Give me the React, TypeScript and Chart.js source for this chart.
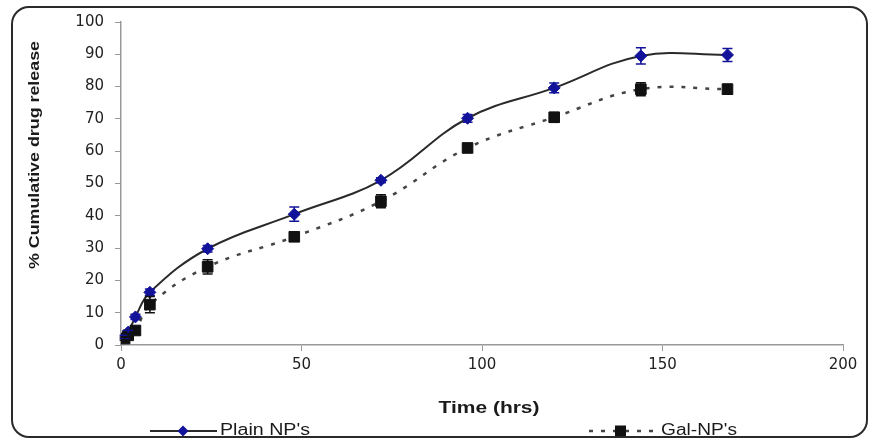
import React, { useEffect, useRef } from "react";
import { Chart, registerables } from "chart.js";

Chart.register(...registerables);

const times = [1, 2, 4, 8, 24, 48, 72, 96, 120, 144, 168];
const plainValues = [2.5, 4, 8.7, 16.3, 29.8, 40.5, 51, 70.2, 79.6, 89.5, 89.8];
const plainErrors = [0.5, 0.5, 0.8, 1, 1, 2.2, 0.8, 1.2, 1.5, 2.5, 2];
const galValues = [2, 3, 4.5, 12.5, 24.2, 33.5, 44.5, 61, 70.5, 79.2, 79.2];
const galErrors = [0.5, 0.5, 1, 2.5, 2.2, 1, 2, 0.8, 1.5, 2, 1.5];

const seriesLabels = ["Plain NP's", "Gal-NP's"];
const xTitle = "Time (hrs)";
const yTitle = "% Cumulative drug release";

const PLAIN_LINE = "#2a2a2a";
const PLAIN_MARK = "#12129a";
const GAL_LINE = "#444444";
const GAL_MARK = "#111111";

const errorBarPlugin = {
  id: "errorBars",
  afterDatasetsDraw(chart: any) {
    const { ctx, scales } = chart;
    const sets = [
      { vals: plainValues, errs: plainErrors, color: PLAIN_MARK },
      { vals: galValues, errs: galErrors, color: GAL_MARK },
    ];
    ctx.save();
    sets.forEach((s) => {
      ctx.strokeStyle = s.color;
      ctx.lineWidth = 1.5;
      times.forEach((t, i) => {
        const x = scales.x.getPixelForValue(t);
        const y1 = scales.y.getPixelForValue(s.vals[i] + s.errs[i]);
        const y2 = scales.y.getPixelForValue(s.vals[i] - s.errs[i]);
        ctx.beginPath();
        ctx.moveTo(x, y1);
        ctx.lineTo(x, y2);
        ctx.moveTo(x - 5, y1);
        ctx.lineTo(x + 5, y1);
        ctx.moveTo(x - 5, y2);
        ctx.lineTo(x + 5, y2);
        ctx.stroke();
      });
    });
    ctx.restore();
  },
};

function stretchedText(ctx: any, text: string, cx: number, cy: number, targetW: number, font: string, rot = 0, align = "center") {
  ctx.save();
  ctx.font = font;
  const w = ctx.measureText(text).width;
  ctx.translate(cx, cy);
  if (rot) ctx.rotate(rot);
  ctx.scale(targetW / w, 1);
  ctx.textAlign = align;
  ctx.textBaseline = "middle";
  ctx.fillStyle = "#1a1a1a";
  ctx.fillText(text, 0, 0);
  ctx.restore();
}

const decorPlugin = {
  id: "decor",
  afterDraw(chart: any) {
    const ctx = chart.ctx;
    stretchedText(ctx, yTitle, 35, 155, 228, "bold 15px Arial", -Math.PI / 2);
    stretchedText(ctx, xTitle, 489, 408, 101, "bold 17px Arial");
    const ly = 431;
    ctx.save();
    ctx.strokeStyle = PLAIN_LINE;
    ctx.lineWidth = 2;
    ctx.beginPath();
    ctx.moveTo(150, ly);
    ctx.lineTo(217, ly);
    ctx.stroke();
    ctx.fillStyle = PLAIN_MARK;
    ctx.beginPath();
    ctx.moveTo(183, ly - 5.5);
    ctx.lineTo(188.5, ly);
    ctx.lineTo(183, ly + 5.5);
    ctx.lineTo(177.5, ly);
    ctx.closePath();
    ctx.fill();
    ctx.strokeStyle = GAL_LINE;
    ctx.lineWidth = 2.5;
    ctx.setLineDash([4, 8]);
    ctx.beginPath();
    ctx.moveTo(589, ly);
    ctx.lineTo(656, ly);
    ctx.stroke();
    ctx.setLineDash([]);
    ctx.fillStyle = GAL_MARK;
    ctx.fillRect(615, ly - 5.5, 11, 11);
    ctx.restore();
    stretchedText(ctx, seriesLabels[0], 220, ly, 90, "16px Arial", 0, "left");
    stretchedText(ctx, seriesLabels[1], 661, ly, 76, "16px Arial", 0, "left");
  },
};

export default function App() {
  const ref = useRef<HTMLCanvasElement | null>(null);
  useEffect(() => {
    if (!ref.current) return;
    const chart = new Chart(ref.current, {
      type: "line",
      data: {
        datasets: [
          {
            label: seriesLabels[0],
            data: times.map((t, i) => ({ x: t, y: plainValues[i] })),
            borderColor: PLAIN_LINE,
            borderWidth: 2,
            tension: 0.4,
            pointStyle: "rectRot",
            pointRadius: 6,
            pointBackgroundColor: PLAIN_MARK,
            pointBorderColor: PLAIN_MARK,
            pointBorderWidth: 1,
            order: 1,
          },
          {
            label: seriesLabels[1],
            data: times.map((t, i) => ({ x: t, y: galValues[i] })),
            borderColor: GAL_LINE,
            borderWidth: 2.5,
            borderDash: [4, 8],
            tension: 0.4,
            pointStyle: "rect",
            pointRadius: 7.5,
            pointBackgroundColor: GAL_MARK,
            pointBorderColor: GAL_MARK,
            pointBorderWidth: 1,
            order: 0,
          },
        ],
      },
      options: {
        responsive: false,
        animation: false,
        layout: { padding: { left: 0, right: 26, top: 22, bottom: 0 } },
        plugins: { legend: { display: false }, tooltip: { enabled: false } },
        scales: {
          x: {
            type: "linear",
            min: 0,
            max: 200,
            ticks: { stepSize: 50, color: "#222", padding: 5, font: { family: "DejaVu Sans", size: 15 } },
            grid: { drawOnChartArea: false, drawTicks: true, tickLength: 6, color: "#999" },
            border: { display: true, color: "#999", width: 1.5 },
            afterFit: (s: any) => { s.height = 95; },
          },
          y: {
            min: 0,
            max: 100,
            ticks: { stepSize: 10, color: "#222", padding: 11, font: { family: "DejaVu Sans", size: 15 } },
            grid: { drawOnChartArea: false, drawTicks: true, tickLength: 6, color: "#999" },
            border: { display: true, color: "#999", width: 1.5 },
            afterFit: (s: any) => { s.width = 121; },
          },
        },
      },
      plugins: [errorBarPlugin, decorPlugin],
    });
    return () => chart.destroy();
  }, []);
  return (
    <div style={{ position: "fixed", left: 0, top: 0, width: 869, height: 440, background: "#fff" }}>
      <canvas ref={ref} width={869} height={440} style={{ position: "absolute", left: 0, top: 0 }} />
      <div
        style={{
          position: "absolute",
          left: 11,
          top: 6,
          width: 857,
          height: 432,
          boxSizing: "border-box",
          border: "2px solid #2a2a2a",
          borderRadius: 18,
          pointerEvents: "none",
        }}
      />
    </div>
  );
}
